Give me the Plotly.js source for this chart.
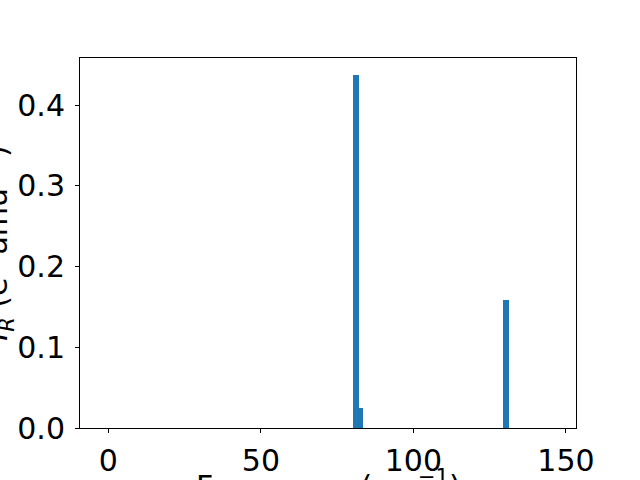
<!DOCTYPE html>
<html><head><meta charset="utf-8">
<script src="https://cdn.plot.ly/plotly-3.0.1.min.js"></script>
<style>body{margin:0;}#c{width:640px;height:480px;}</style>
</head><body><div id="c"></div>
<script>
const freqs = [81.2, 82.85, 130.4];
const intensities = [0.437, 0.0245, 0.1585];
const barWidths = [2.0, 1.3, 2.0];
const xTicks = [0, 50, 100, 150];
const yTicks = [0.0, 0.1, 0.2, 0.3, 0.4];

const font = {family: 'DejaVu Sans', size: 30, color: '#000'};
Plotly.newPlot('c', [{
  type: 'bar', x: freqs, y: intensities, width: barWidths,
  marker: {color: '#1f77b4', line: {width: 0}}
}], {
  width: 640, height: 480,
  margin: {l: 80, r: 64, t: 58, b: 52},
  paper_bgcolor: '#fff', plot_bgcolor: '#fff',
  showlegend: false, bargap: 0,
  font: font,
  xaxis: {range: [-9.3, 153.3], tickvals: xTicks, ticktext: xTicks.map(String),
    showline: true, mirror: true, linecolor: '#000', linewidth: 1,
    ticks: 'outside', ticklen: 4, tickcolor: '#000', showgrid: false, zeroline: false,
    tickfont: font, ticklabelstandoff: 2},
  yaxis: {range: [0, 0.4582], tickvals: yTicks, ticktext: yTicks.map(v => v.toFixed(1)),
    showline: true, mirror: true, linecolor: '#000', linewidth: 1,
    ticks: 'outside', ticklen: 4, tickcolor: '#000', showgrid: false, zeroline: false,
    tickfont: font, ticklabelstandoff: 4},
  annotations: [
    {text: '<i>I</i><sub><i>R</i></sub> (e<sup>2</sup> amu<sup>−1</sup>)', xref: 'paper', yref: 'paper',
     x: -0.168, y: 0.5, textangle: -90, showarrow: false, font: font, xanchor: 'center', yanchor: 'middle'},
    {text: 'Frequency (cm<sup>−1</sup>)', xref: 'paper', yref: 'paper',
     x: 0.5, y: -0.094, showarrow: false, font: font, xanchor: 'center', yanchor: 'top'}
  ]
}, {staticPlot: true});
</script></body></html>
